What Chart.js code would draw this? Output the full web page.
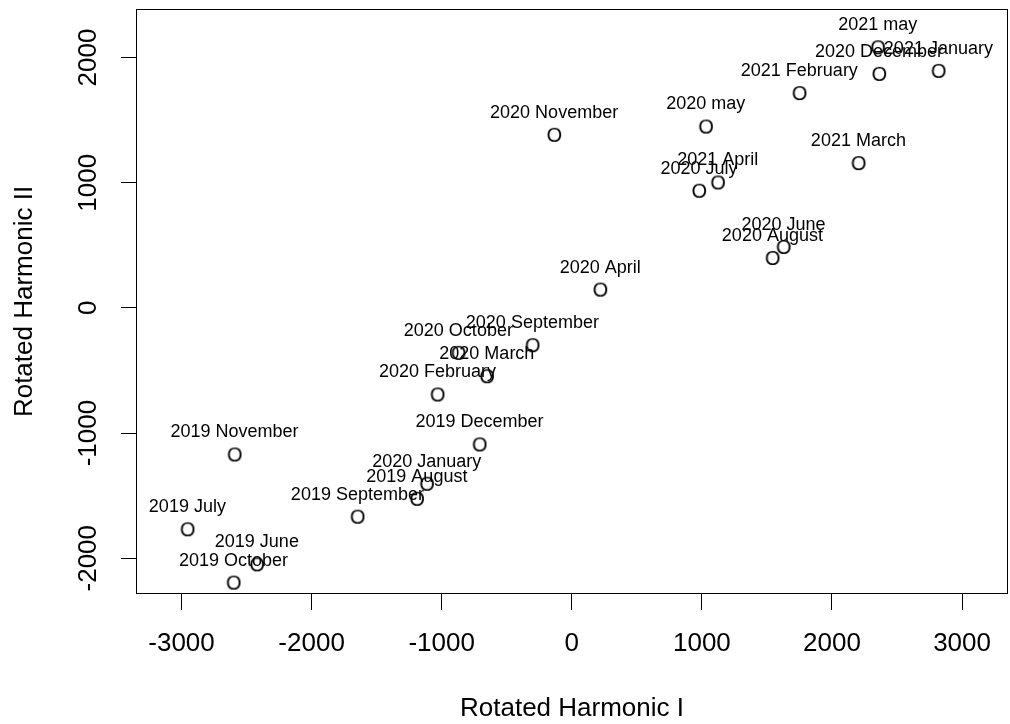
<!DOCTYPE html>
<html>
<head>
<meta charset="utf-8">
<script src="https://cdn.jsdelivr.net/npm/chart.js@4/dist/chart.umd.min.js"></script>
<style>
  html, body { margin: 0; padding: 0; background: #ffffff; }
  #wrap { width: 1010px; height: 724px; }
</style>
</head>
<body>
<div id="wrap"><canvas id="c" width="1010" height="724"></canvas></div>
<script>
// ---- data ----
const pointLabels = [
  "2019 June", "2019 July", "2019 August", "2019 September", "2019 October",
  "2019 November", "2019 December", "2020 January", "2020 February", "2020 March",
  "2020 April", "2020 may", "2020 June", "2020 July", "2020 August",
  "2020 September", "2020 October", "2020 November", "2020 December",
  "2021 January", "2021 February", "2021 March", "2021 April", "2021 may"
];
const harmonicI = [
  -2421, -2955, -1191, -1648, -2601,
  -2593, -710, -1115, -1033, -653,
  218, 1030, 1627, 978, 1542,
  -303, -872, -136, 2362,
  2818, 1749, 2203, 1122, 2352
];
const harmonicII = [
  -2049, -1769, -1525, -1668, -2195,
  -1171, -1091, -1405, -692, -546,
  146, 1449, 487, 936, 399,
  -298, -359, 1383, 1870,
  1894, 1716, 1157, 1002, 2082
];
const xTickValues = [-3000, -2000, -1000, 0, 1000, 2000, 3000];
const xTickLabels = ["-3000", "-2000", "-1000", "0", "1000", "2000", "3000"];
const yTickValues = [-2000, -1000, 0, 1000, 2000];
const yTickLabels = ["-2000", "-1000", "0", "1000", "2000"];
const xTitle = "Rotated Harmonic I";
const yTitle = "Rotated Harmonic II";

// ---- styles ----
const FONT = "'Liberation Sans', Arial, sans-serif";
const AXIS_SIZE = 26;
const LABEL_SIZE = 18;
const MARK_SIZE = 20;

// "O" marker glyph rendered to an offscreen canvas, ink centred
function makeMarker() {
  const cv = document.createElement('canvas');
  cv.width = 26; cv.height = 26;
  const g = cv.getContext('2d');
  g.font = MARK_SIZE + "px " + FONT;
  const m = g.measureText('O');
  const inkW = m.actualBoundingBoxLeft + m.actualBoundingBoxRight;
  const inkH = m.actualBoundingBoxAscent + m.actualBoundingBoxDescent;
  const x = cv.width / 2 - inkW / 2 + m.actualBoundingBoxLeft;
  const y = cv.height / 2 - inkH / 2 + m.actualBoundingBoxAscent;
  g.fillStyle = '#000';
  g.textBaseline = 'alphabetic';
  g.textAlign = 'left';
  g.fillText('O', x, y);
  return cv;
}

const points = harmonicI.map((v, i) => ({ x: v, y: harmonicII[i] }));

const boxPlugin = {
  id: 'rbox',
  afterDatasetsDraw(chart) {
    const ctx = chart.ctx;
    const meta = chart.getDatasetMeta(0);
    ctx.save();
    ctx.font = LABEL_SIZE + "px " + FONT;
    ctx.fillStyle = '#000';
    ctx.textAlign = 'center';
    ctx.textBaseline = 'middle';
    meta.data.forEach((el, i) => {
      ctx.fillText(pointLabels[i], el.x, el.y - 22);
    });
    ctx.restore();
  },
  afterDraw(chart) {
    const a = chart.chartArea;
    const ctx = chart.ctx;
    ctx.save();
    ctx.strokeStyle = '#000';
    ctx.lineWidth = 1;
    ctx.strokeRect(Math.round(a.left) + 0.5, Math.round(a.top) + 0.5,
                   Math.round(a.right - a.left) - 1, Math.round(a.bottom - a.top) - 1);
    ctx.restore();
  }
};

new Chart(document.getElementById('c'), {
  type: 'scatter',
  data: {
    datasets: [{
      data: points,
      pointStyle: makeMarker(),
      pointRadius: 8,
      pointHoverRadius: 8,
      showLine: false
    }]
  },
  options: {
    responsive: false,
    animation: false,
    events: [],
    layout: { autoPadding: false, padding: { left: 0, right: 2, top: 9, bottom: 0 } },
    plugins: { legend: { display: false }, tooltip: { enabled: false } },
    scales: {
      x: {
        type: 'linear',
        position: 'bottom',
        min: -3350,
        max: 3353,
        afterBuildTicks: s => { s.ticks = xTickValues.map(v => ({ value: v })); },
        afterFit: s => { s.height = 130; s.paddingLeft = 0; s.paddingRight = 0; },
        grid: { display: true, drawOnChartArea: false, drawTicks: true, tickLength: 16, color: '#000', lineWidth: 1 },
        border: { display: false },
        ticks: {
          autoSkip: false, maxRotation: 0, minRotation: 0, padding: 18,
          color: '#000', font: { family: FONT, size: AXIS_SIZE },
          callback: (v, i) => xTickLabels[i]
        },
        title: {
          display: true, text: xTitle, color: '#000',
          font: { family: FONT, size: AXIS_SIZE }, padding: { top: 0, bottom: 0 }
        }
      },
      y: {
        type: 'linear',
        position: 'left',
        min: -2286,
        max: 2388,
        afterBuildTicks: s => { s.ticks = yTickValues.map(v => ({ value: v })); },
        afterFit: s => { s.width = 136; s.paddingTop = 0; s.paddingBottom = 0; },
        grid: { display: true, drawOnChartArea: false, drawTicks: true, tickLength: 15, color: '#000', lineWidth: 1 },
        border: { display: false },
        ticks: {
          autoSkip: false, minRotation: 90, maxRotation: 90, crossAlign: 'center', padding: -1,
          color: '#000', font: { family: FONT, size: AXIS_SIZE },
          callback: (v, i) => yTickLabels[i]
        },
        title: {
          display: true, text: yTitle, color: '#000',
          font: { family: FONT, size: AXIS_SIZE }, padding: { top: 9, bottom: 0 }
        }
      }
    }
  },
  plugins: [boxPlugin]
});
</script>
</body>
</html>
